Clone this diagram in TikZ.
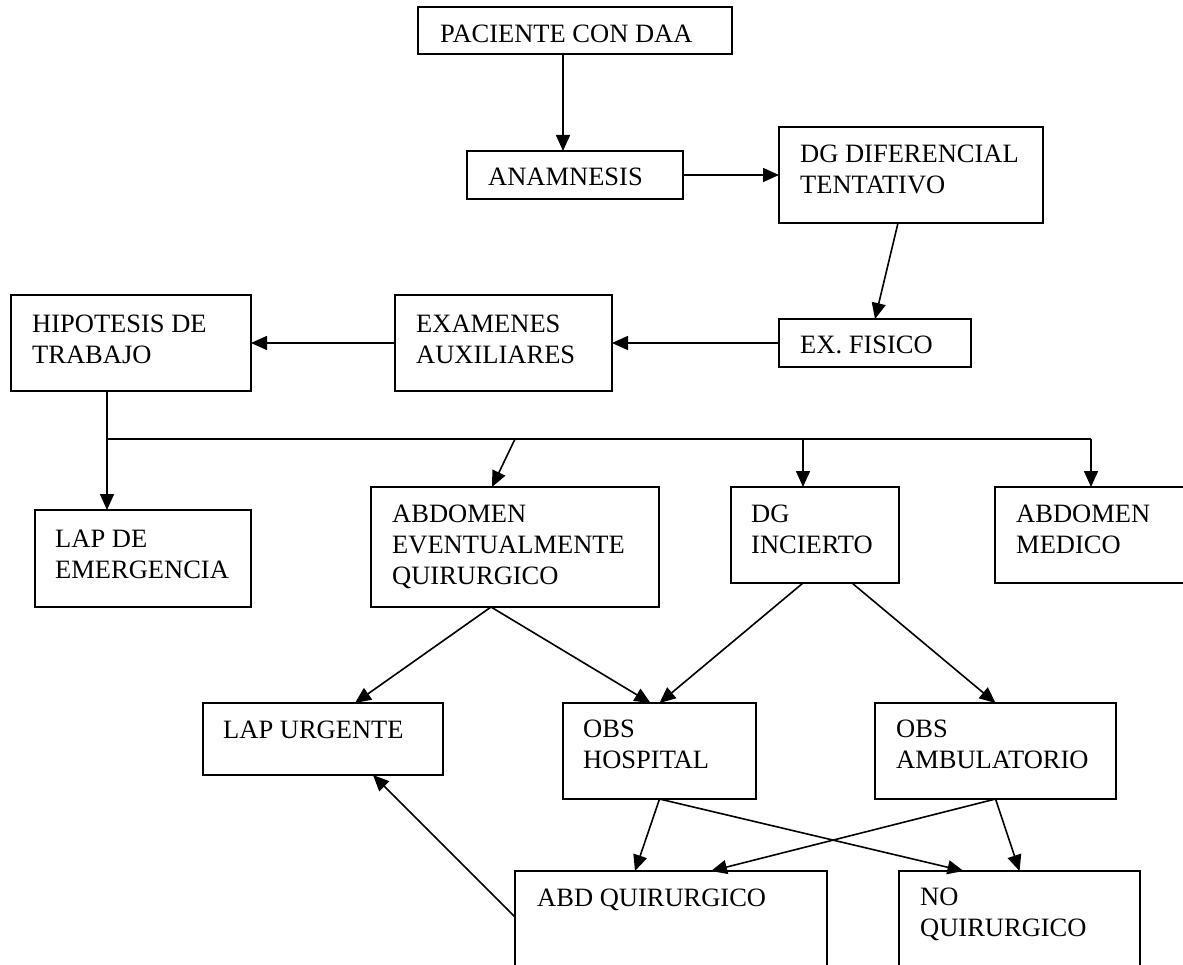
\documentclass[tikz,border=0pt]{standalone}
\usepackage{fontspec}
\setmainfont{Liberation Serif}
\usetikzlibrary{arrows.meta,calc}
\tikzset{
  box/.style={draw, line width=1.8pt, rectangle, inner sep=0pt, outer sep=0pt},
  txt/.style={anchor=north west, inner sep=0pt, align=left, font=\fontsize{26.5}{31}\selectfont},
  ln/.style={line width=1.6pt},
  arr/.style={line width=1.6pt, -{Triangle[length=16pt,width=14pt]}},
}
\newcommand{\firstline}{\rule{0pt}{20pt}}
\begin{document}
\begin{tikzpicture}[x=1pt,y=-1pt]
\useasboundingbox (0,0) rectangle (1183,965);
% boxes
\node[box, minimum width=314pt, minimum height=47pt] (pac) at (575,30.5) {};
\node[box, minimum width=216pt, minimum height=48pt] (ana) at (575,175) {};
\node[box, minimum width=264pt, minimum height=96pt] (dgd) at (911,175) {};
\node[box, minimum width=192pt, minimum height=48pt] (exf) at (875,343) {};
\node[box, minimum width=217pt, minimum height=96pt] (exa) at (503.5,343) {};
\node[box, minimum width=240pt, minimum height=96pt] (hip) at (131,343) {};
\node[box, minimum width=216pt, minimum height=97pt] (lapE) at (143,558.5) {};
\node[box, minimum width=288pt, minimum height=120pt] (abdEv) at (515,547) {};
\node[box, minimum width=168pt, minimum height=96pt] (dgi) at (815,535) {};
\node[box, minimum width=205pt, minimum height=96pt] (abdM) at (1097.5,535) {};
\node[box, minimum width=240pt, minimum height=72pt] (lapU) at (323,739) {};
\node[box, minimum width=193pt, minimum height=96pt] (obsH) at (659.5,751) {};
\node[box, minimum width=241pt, minimum height=96pt] (obsA) at (995.5,751) {};
\node[box, minimum width=312pt, minimum height=129pt] (abdQ) at (671,935.5) {};
\node[box, minimum width=241pt, minimum height=129pt] (noQ) at (1019.5,935.5) {};
% texts
\node[txt] (pacT) at (440,22) {\firstline PACIENTE CON DAA};
\node[txt] (anaT) at (488,165) {\firstline ANAMNESIS};
\node[txt] (dgdT) at (800,142) {\firstline DG DIFERENCIAL\\TENTATIVO};
\node[txt] (exfT) at (800,333) {\firstline EX. FISICO};
\node[txt] (exaT) at (416,312) {\firstline EXAMENES\\AUXILIARES};
\node[txt] (hipT) at (32,312) {\firstline HIPOTESIS DE\\TRABAJO};
\node[txt] (lapET) at (55,527) {\firstline LAP DE\\EMERGENCIA};
\node[txt] (abdEvT) at (392,502) {\firstline ABDOMEN\\EVENTUALMENTE\\QUIRURGICO};
\node[txt] (dgiT) at (751,502) {\firstline DG\\INCIERTO};
\node[txt] (abdMT) at (1016,502) {\firstline ABDOMEN\\MEDICO};
\node[txt] (lapUT) at (223,718) {\firstline LAP URGENTE};
\node[txt] (obsHT) at (583,717) {\firstline OBS\\HOSPITAL};
\node[txt] (obsAT) at (896,717) {\firstline OBS\\AMBULATORIO};
\node[txt] (abdQT) at (537,886) {\firstline ABD QUIRURGICO};
\node[txt] (noQT) at (920,885) {\firstline NO\\QUIRURGICO};
% connectors
\draw[arr] ([xshift=-12pt]pac.south) -- ([xshift=-12pt]ana.north);
\draw[arr] (ana.east) -- (dgd.west);
\draw[arr] ([xshift=-13pt]dgd.south) -- (exf.north);
\draw[arr] (exf.west) -- (exa.east);
\draw[arr] (exa.west) -- (hip.east);
\coordinate (busL) at (107,439);
\coordinate (busR) at (1091,439);
\coordinate (b1) at (515,439);
\coordinate (b2) at (803,439);
\draw[ln] ([xshift=-24pt]hip.south) -- (busL) -- (busR);
\draw[arr] (busL) -- ([xshift=-36pt]lapE.north);
\draw[arr] (b1) -- ([xshift=-23pt]abdEv.north);
\draw[arr] (b2) -- ([xshift=-12pt]dgi.north);
\draw[arr] (busR) -- ([xshift=-6.5pt]abdM.north);
\draw[arr] ([xshift=-24pt]abdEv.south) -- ([xshift=32pt]lapU.north);
\draw[arr] ([xshift=-24pt]abdEv.south) -- ([xshift=-9pt]obsH.north);
\draw[arr] ([xshift=-12pt]dgi.south) -- (obsH.north);
\draw[arr] ([xshift=37pt]dgi.south) -- (obsA.north);
\draw[arr] (obsH.south) -- ([xshift=-36pt]abdQ.north);
\draw[arr] (obsH.south) -- ([xshift=-56pt]noQ.north);
\draw[arr] (obsA.south) -- ([xshift=40pt]abdQ.north);
\draw[arr] (obsA.south) -- (noQ.north);
\draw[arr] ([yshift=-46pt]abdQ.north west) -- ([xshift=50pt]lapU.south);
\end{tikzpicture}
\end{document}
